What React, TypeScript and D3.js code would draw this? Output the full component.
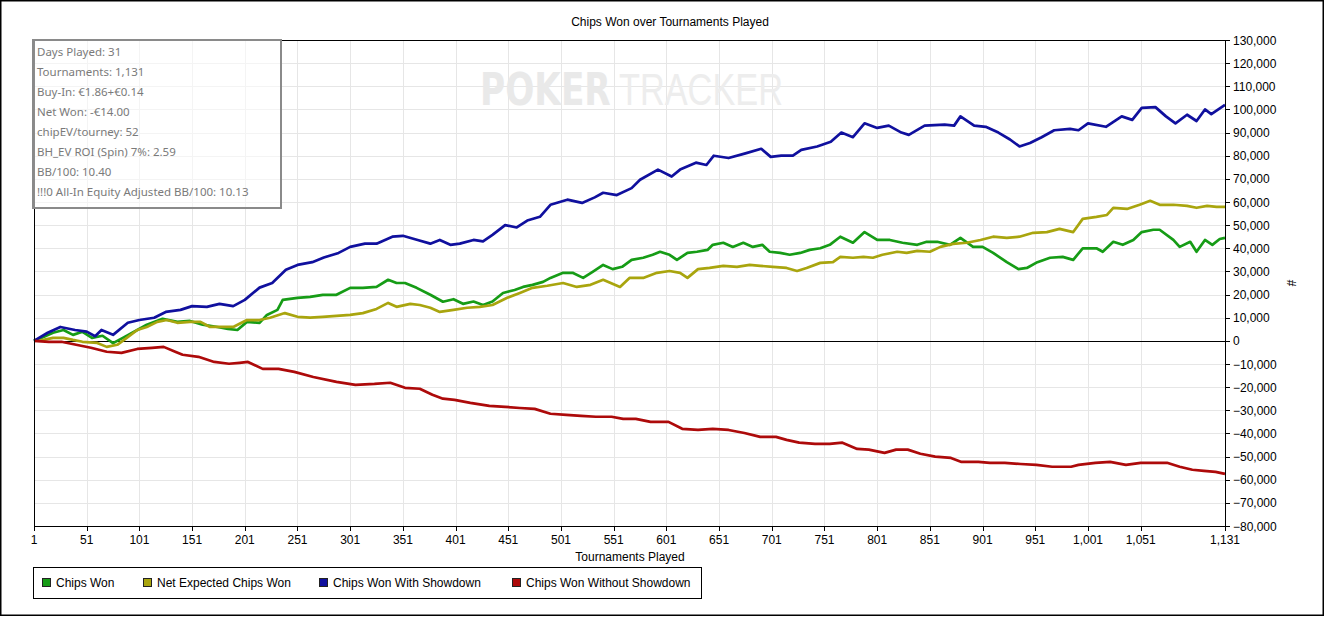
import React from "react";
import * as d3 from "d3";

// tournaments / chips
const wonT = [
    1, 10, 19, 29, 38, 47, 56, 66, 76, 87,
    99, 108, 123, 137, 149, 161, 175, 185, 194, 203,
    215, 222, 232, 237, 251, 263, 275, 288, 301, 313,
    326, 337, 345, 353, 364, 377, 389, 399, 408, 418,
    427, 436, 446, 457, 465, 474, 484, 491, 503, 512,
    522, 531, 541, 550, 559, 568, 579, 588, 595, 604,
    611, 621, 630, 640, 645, 655, 664, 674, 683, 692,
    699, 709, 718, 728, 737, 747, 756, 766, 778, 789,
    801, 813, 825, 839, 848, 858, 870, 880, 892, 901,
    911, 924, 935, 943, 953, 965, 977, 987, 996, 1009,
    1015, 1025, 1034, 1044, 1052, 1063, 1069, 1082, 1088, 1098,
    1104, 1112, 1119, 1126, 1131]
const wonChips = [
    0, 1700, 3500, 4700, 2600, 3900, 1300, 2200, -1000, 1700,
    4700, 7000, 9500, 8200, 8600, 7000, 6000, 5200, 4700, 8200,
    7800, 11200, 13400, 17700, 18600, 19000, 19900, 19900, 22900, 22900,
    23300, 26400, 25000, 25000, 22900, 19900, 16900, 18000, 16000, 17000,
    15500, 17000, 20700, 22000, 23300, 24200, 25500, 27200, 29400, 29400,
    27200, 29800, 32800, 31000, 32000, 35000, 35900, 37200, 38500, 37200,
    35000, 38000, 38500, 39300, 41500, 42400, 40600, 42400, 40600, 41500,
    38500, 38000, 37200, 38000, 39300, 40000, 41500, 45000, 42400, 47000,
    43600, 43600, 42400, 41500, 42800, 42800, 41500, 44500, 40600, 40600,
    38000, 34000, 31000, 31500, 34000, 35900, 36300, 35000, 40000, 40000,
    38500, 42800, 41500, 43600, 47000, 48000, 48000, 43600, 40600, 42800,
    38500, 43600, 41500, 44000, 44500]

const expT = [
    1, 10, 19, 29, 38, 47, 61, 70, 80, 89,
    99, 108, 118, 127, 137, 149, 159, 168, 180, 190,
    203, 215, 225, 239, 251, 263, 275, 288, 301, 313,
    326, 337, 345, 358, 367, 377, 386, 399, 412, 424,
    436, 450, 462, 474, 488, 503, 516, 529, 541, 557,
    566, 579, 592, 604, 614, 621, 631, 642, 655, 668,
    680, 690, 702, 715, 725, 734, 747, 759, 766, 778,
    788, 797, 806, 820, 829, 839, 851, 861, 873, 886,
    899, 911, 924, 936, 949, 962, 974, 987, 996, 1009,
    1019, 1025, 1038, 1050, 1060, 1069, 1082, 1095, 1104, 1114,
    1123, 1131]
const expChips = [
    0, 400, 1300, 1300, 400, -400, -900, -2600, -1700, 1300,
    4700, 6000, 8200, 9000, 7800, 8200, 8200, 6000, 6000, 6000,
    9000, 9000, 10000, 12000, 10400, 10000, 10400, 10800, 11200, 12000,
    13800, 16400, 14700, 16000, 15500, 14300, 12500, 13400, 14300, 14700,
    15500, 18600, 20700, 22900, 23800, 25000, 23300, 24200, 26400, 23300,
    27200, 27200, 29400, 30200, 29400, 27200, 31000, 31500, 32400, 32000,
    32800, 32400, 32000, 31500, 30200, 31500, 33700, 34000, 36300, 35900,
    36300, 35900, 37200, 38500, 38000, 38900, 38500, 40600, 41900, 42400,
    43600, 45000, 44500, 45000, 46700, 47000, 48400, 47000, 52700, 53600,
    54400, 57500, 57000, 58800, 60500, 58800, 58800, 58300, 57500, 58300,
    57900, 57900]

const sdT = [
    1, 14, 26, 40, 51, 59, 65, 76, 90, 101,
    115, 126, 140, 151, 165, 177, 190, 201, 215, 227,
    240, 251, 265, 276, 290, 301, 315, 326, 341, 351,
    365, 377, 386, 396, 405, 418, 427, 436, 448, 459,
    469, 481, 491, 507, 521, 533, 541, 554, 568, 576,
    593, 606, 614, 629, 639, 646, 660, 676, 691, 700,
    710, 721, 729, 744, 757, 767, 778, 789, 801, 812,
    824, 831, 846, 865, 874, 880, 893, 904, 916, 927,
    936, 946, 957, 969, 984, 992, 1001, 1018, 1033, 1043,
    1052, 1065, 1075, 1084, 1095, 1104, 1112, 1118, 1131]
const sdChips = [
    0, 3500, 6000, 4700, 4000, 2000, 4700, 2600, 7800, 9000,
    10000, 12500, 13400, 15000, 14700, 16000, 15000, 17700, 23000, 25000,
    30700, 32800, 34000, 36000, 38000, 40600, 42000, 42000, 45000, 45400,
    43600, 42000, 43600, 41500, 42000, 43600, 43000, 45800, 50000, 49000,
    52000, 53600, 58800, 61000, 59600, 62000, 64000, 63000, 66000, 69600,
    74000, 71000, 74000, 77000, 76000, 80000, 79000, 81000, 83000, 79500,
    80000, 80000, 82500, 84000, 86000, 90000, 88000, 94000, 92000, 93000,
    90000, 89000, 93000, 93400, 93000, 97000, 93000, 92500, 90000, 87000,
    84000, 85500, 88000, 91000, 91600, 91000, 94000, 92500, 97000, 95500,
    100700, 101000, 97000, 94000, 97700, 95000, 100000, 98000, 102000]

const nsdT = [
    1, 15, 27, 41, 55, 70, 84, 99, 113, 124,
    135, 142, 157, 172, 186, 196, 204, 218, 233, 248,
    266, 288, 306, 324, 339, 353, 367, 379, 389, 400,
    415, 433, 448, 462, 476, 491, 506, 520, 534, 549,
    560, 572, 586, 603, 616, 631, 645, 660, 675, 690,
    705, 715, 727, 742, 756, 768, 782, 793, 808, 819,
    830, 842, 856, 871, 881, 897, 908, 922, 937, 952,
    967, 985, 992, 1008, 1022, 1037, 1051, 1063, 1076, 1088,
    1100, 1111, 1122, 1131]
const nsdChips = [
    0, -400, -400, -1700, -3000, -4700, -5200, -3500, -3000, -2600,
    -4700, -6000, -6900, -9100, -9900, -9500, -9100, -12100, -12100, -13400,
    -15600, -17700, -19000, -18600, -18100, -20300, -20700, -23300, -25000, -25500,
    -26800, -28100, -28500, -29000, -29400, -31500, -32000, -32400, -32800, -32800,
    -33700, -33700, -35000, -35000, -38000, -38500, -38000, -38500, -39800, -41500,
    -41500, -42800, -44000, -44500, -44500, -44000, -46700, -47000, -48400, -47000,
    -47000, -48800, -50000, -50600, -52300, -52300, -52700, -52700, -53200, -53600,
    -54400, -54400, -53600, -52700, -52300, -53600, -52700, -52700, -52700, -54400,
    -55700, -56200, -56600, -57500]

const seriesNames = ["Chips Won", "Net Expected Chips Won", "Chips Won With Showdown", "Chips Won Without Showdown"]
const seriesColors = ["#169c16", "#a9a50e", "#10109e", "#ad0a0a"]
const xTickValues = [1, 51, 101, 151, 201, 251, 301, 351, 401, 451, 501, 551, 601, 651, 701, 751, 801, 851, 901, 951, 1001, 1051, 1131]
const statLines = [
    "Days Played: 31",
    "Tournaments: 1,131",
    "Buy-In: €1.86+€0.14",
    "Net Won: -€14.00",
    "chipEV/tourney: 52",
    "BH_EV ROI (Spin) 7%: 2.59",
    "BB/100: 10.40",
    "!!!0 All-In Equity Adjusted BB/100: 10.13",
]

const W = 1325
const H = 617
const left = 34, right = 1225, top = 40, bottom = 526
const tickFont = "'Liberation Sans', Arial, sans-serif"

const App = () => {
    const x = d3.scaleLinear().domain([1, 1131]).range([left, right])
    const y = d3.scaleLinear().domain([-80000, 130000]).range([bottom, top])
    const yTicks = d3.range(-80000, 130001, 10000)
    const fmt = d3.format(",")

    const series = [
        [wonT, wonChips],
        [expT, expChips],
        [sdT, sdChips],
        [nsdT, nsdChips],
    ].map(([ts, vs]) => ts.slice(0, Math.min(ts.length, vs.length)).map((t, i) => [t, vs[i]] as [number, number]))

    const line = d3.line<[number, number]>()
        .x(d => x(d[0]))
        .y(d => y(d[1]))

    const legendX = [42, 143, 319, 512]

    return (
        <svg width={W} height={H} style={{position: "absolute", left: 0, top: 0, background: "#fff"}}
             fontFamily={tickFont}>
            <rect x={0.75} y={0.75} width={W - 2.5} height={H - 2.5} fill="#fff" stroke="#000" strokeWidth={1.5}/>
            <text x={670} y={26} textAnchor="middle" fontSize={12}>Chips Won over Tournaments Played</text>

            {/* grid */}
            <g stroke="#e6e6e6" strokeWidth={1}>
                {yTicks.filter(v => v !== 0).map(v => (
                    <line key={"gy" + v} x1={left} x2={right} y1={Math.round(y(v)) + 0.5} y2={Math.round(y(v)) + 0.5}/>
                ))}
                {xTickValues.slice(1, -1).map(v => (
                    <line key={"gx" + v} x1={Math.round(x(v)) + 0.5} x2={Math.round(x(v)) + 0.5} y1={top} y2={bottom}/>
                ))}
            </g>

            {/* watermark, squeezed horizontally */}
            <text transform="translate(480,105) scale(0.78,1)" fontFamily="'DejaVu Sans', sans-serif" fontWeight="bold"
                  fontSize={44} fill="#e9e9e9">POKER</text>
            <text transform="translate(619,105) scale(0.78,1)" fontFamily="'Liberation Sans', sans-serif" fontSize={44}
                  fill="#ededed">TRACKER</text>

            {/* zero line */}
            <line x1={left} x2={right} y1={Math.round(y(0)) + 0.5} y2={Math.round(y(0)) + 0.5} stroke="#000"/>

            {/* series */}
            <g fill="none" strokeWidth={2.7} strokeLinejoin="round">
                {series.map((pts, i) => (
                    <path key={i} d={line(pts) || ""} stroke={seriesColors[i]}/>
                ))}
            </g>

            {/* plot frame */}
            <rect x={left + 0.5} y={top + 0.5} width={right - left} height={bottom - top} fill="none" stroke="#000"/>

            {/* right axis */}
            <g fontSize={12}>
                {yTicks.map(v => (
                    <g key={"ty" + v}>
                        <line x1={right} x2={right + 5} y1={Math.round(y(v)) + 0.5} y2={Math.round(y(v)) + 0.5} stroke="#000"/>
                        <text x={right + 8} y={y(v) + 4.5}>{fmt(v)}</text>
                    </g>
                ))}
            </g>
            <text transform="translate(1287,283) rotate(90)" fontSize={12} textAnchor="middle">#</text>

            {/* bottom axis */}
            <g fontSize={12}>
                {xTickValues.map(v => (
                    <g key={"tx" + v}>
                        <line x1={Math.round(x(v)) + 0.5} x2={Math.round(x(v)) + 0.5} y1={bottom} y2={bottom + 5} stroke="#000"/>
                        <text x={x(v)} y={bottom + 18} textAnchor="middle">{fmt(v)}</text>
                    </g>
                ))}
            </g>
            <text x={630} y={561} textAnchor="middle" fontSize={12}>Tournaments Played</text>

            {/* stats box */}
            <rect x={33} y={40} width={248} height={168} fill="#fff" fillOpacity={0.55} stroke="#8a8a8a" strokeWidth={2}/>
            <g fontFamily="'Segoe UI', 'Noto Sans', sans-serif" fontSize={11.5} fill="#7a7a7a">
                {statLines.map((s, i) => (
                    <text key={i} x={37} y={56 + i * 20}>{s}</text>
                ))}
            </g>

            {/* legend */}
            <rect x={33.5} y={567.5} width={668} height={31} fill="#fff" stroke="#000"/>
            <g fontSize={12}>
                {seriesNames.map((n, i) => (
                    <g key={n}>
                        <rect x={legendX[i] + 0.5} y={578.5} width={8} height={8} fill={seriesColors[i]} stroke="#222"/>
                        <text x={legendX[i] + 14} y={587}>{n}</text>
                    </g>
                ))}
            </g>
        </svg>
    );
};

export default App;
